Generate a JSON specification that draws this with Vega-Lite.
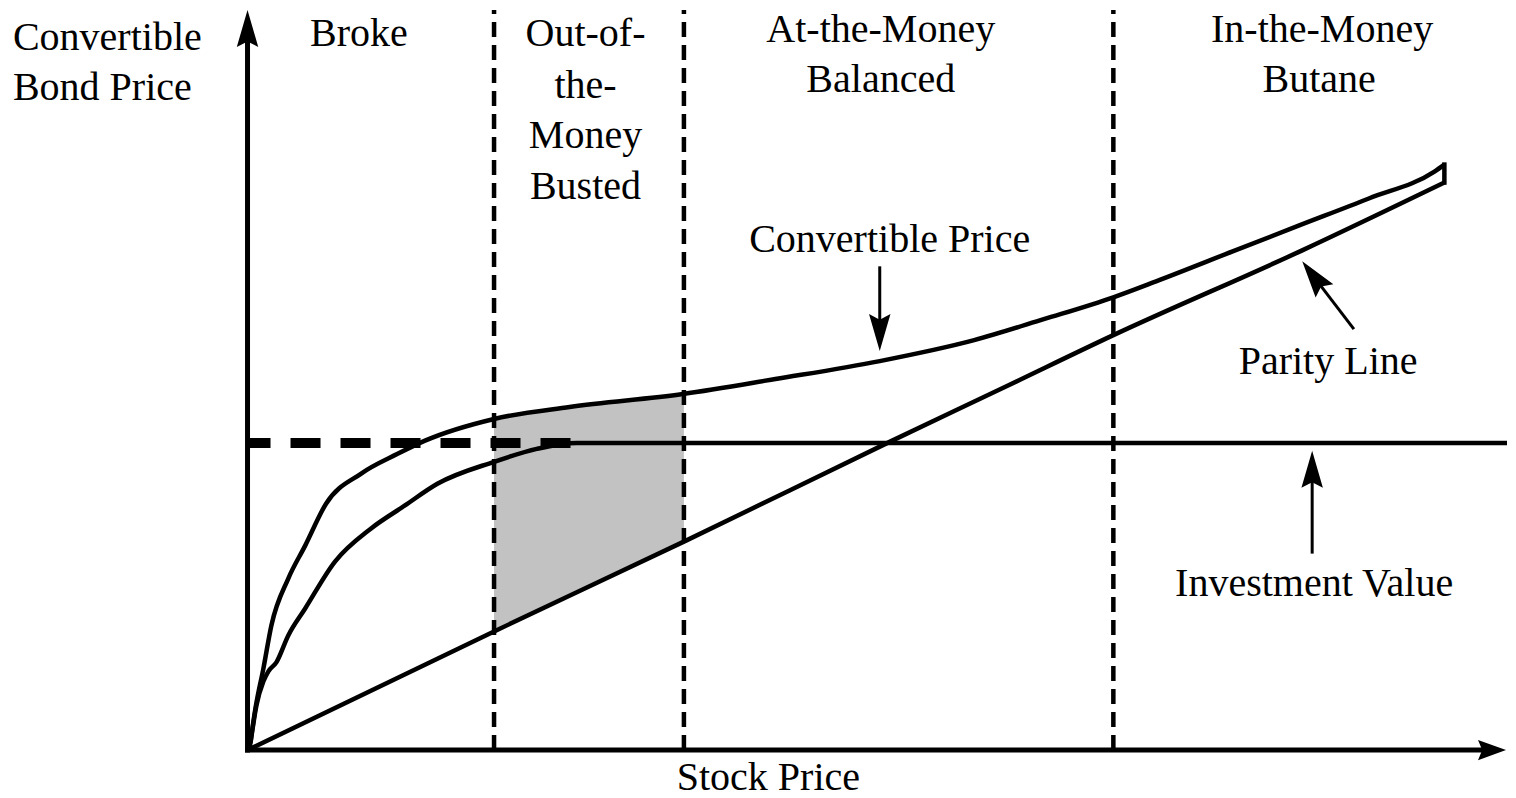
{
  "$schema": "https://vega.github.io/schema/vega-lite/v6.json",
  "width": 1516,
  "height": 798,
  "autosize": {"type": "fit", "contains": "padding"},
  "padding": 0,
  "background": "white",
  "config": {"view": {"stroke": null}},
  "encoding": {
    "x": {"field": "x", "type": "quantitative", "scale": {"domain": [-250, 1266], "nice": false, "zero": false}, "axis": null},
    "y": {"field": "y", "type": "quantitative", "scale": {"domain": [-46, 752], "nice": false, "zero": false}, "axis": null}
  },
  "layer": [
    {
      "data": {"values": [
        {"x": 247, "y": 119, "y2": 332},
        {"x": 285, "y": 137, "y2": 338},
        {"x": 323, "y": 155, "y2": 344},
        {"x": 380, "y": 182, "y2": 350},
        {"x": 438, "y": 209, "y2": 357}
      ]},
      "mark": {"type": "area", "color": "#c2c2c2", "orient": "vertical"},
      "encoding": {"y2": {"field": "y2"}}
    },
    {
      "data": {"values": [
        {"x": 247, "y": 0, "x2": 247, "y2": 742},
        {"x": 438, "y": 0, "x2": 438, "y2": 742},
        {"x": 870, "y": 0, "x2": 870, "y2": 742}
      ]},
      "mark": {"type": "rule", "color": "black", "strokeWidth": 4.5, "strokeDash": [15, 8]},
      "encoding": {"x2": {"field": "x2"}, "y2": {"field": "y2"}}
    },
    {
      "data": {"values": [{"x": 0, "y": 308, "x2": 330, "y2": 308}]},
      "mark": {"type": "rule", "color": "black", "strokeWidth": 10, "strokeDash": [30, 20], "strokeDashOffset": 8},
      "encoding": {"x2": {"field": "x2"}, "y2": {"field": "y2"}}
    },
    {
      "data": {"values": [
        {"series": "Convertible Price", "x": 1, "y": 1},
        {"series": "Convertible Price", "x": 7, "y": 42},
        {"series": "Convertible Price", "x": 15, "y": 82},
        {"series": "Convertible Price", "x": 23, "y": 125},
        {"series": "Convertible Price", "x": 40, "y": 172},
        {"series": "Convertible Price", "x": 57, "y": 205},
        {"series": "Convertible Price", "x": 78, "y": 247},
        {"series": "Convertible Price", "x": 113, "y": 277},
        {"series": "Convertible Price", "x": 150, "y": 297},
        {"series": "Convertible Price", "x": 177, "y": 310},
        {"series": "Convertible Price", "x": 247, "y": 332},
        {"series": "Convertible Price", "x": 323, "y": 344},
        {"series": "Convertible Price", "x": 437, "y": 357},
        {"series": "Convertible Price", "x": 530, "y": 372},
        {"series": "Convertible Price", "x": 635, "y": 390},
        {"series": "Convertible Price", "x": 730, "y": 411},
        {"series": "Convertible Price", "x": 800, "y": 432},
        {"series": "Convertible Price", "x": 870, "y": 454},
        {"series": "Convertible Price", "x": 913, "y": 470},
        {"series": "Convertible Price", "x": 990, "y": 500},
        {"series": "Convertible Price", "x": 1057, "y": 526},
        {"series": "Convertible Price", "x": 1127, "y": 553},
        {"series": "Convertible Price", "x": 1193, "y": 580},
        {"series": "Convertible Price", "x": 1203, "y": 587},
        {"series": "Parity Line", "x": 1, "y": 1},
        {"series": "Parity Line", "x": 247, "y": 119},
        {"series": "Parity Line", "x": 438, "y": 209},
        {"series": "Parity Line", "x": 647, "y": 310},
        {"series": "Parity Line", "x": 763, "y": 365},
        {"series": "Parity Line", "x": 870, "y": 416},
        {"series": "Parity Line", "x": 1060, "y": 501},
        {"series": "Parity Line", "x": 1203, "y": 569},
        {"series": "Investment Value", "x": 2, "y": 7},
        {"series": "Investment Value", "x": 8, "y": 45},
        {"series": "Investment Value", "x": 15, "y": 69},
        {"series": "Investment Value", "x": 20, "y": 79},
        {"series": "Investment Value", "x": 28, "y": 88},
        {"series": "Investment Value", "x": 40, "y": 115},
        {"series": "Investment Value", "x": 57, "y": 142},
        {"series": "Investment Value", "x": 87, "y": 189},
        {"series": "Investment Value", "x": 123, "y": 222},
        {"series": "Investment Value", "x": 157, "y": 245},
        {"series": "Investment Value", "x": 190, "y": 267},
        {"series": "Investment Value", "x": 247, "y": 289},
        {"series": "Investment Value", "x": 290, "y": 302},
        {"series": "Investment Value", "x": 330, "y": 308},
        {"series": "Investment Value", "x": 1266, "y": 308}
      ]},
      "mark": {"type": "line", "color": "black", "strokeWidth": 4.5, "interpolate": "monotone"},
      "encoding": {"detail": {"field": "series"}}
    },
    {
      "data": {"values": [
        {"x": -1, "y": 0, "x2": -1, "y2": 712},
        {"x": -1, "y": 0, "x2": 1245, "y2": 0}
      ]},
      "mark": {"type": "rule", "color": "black", "strokeWidth": 5, "strokeCap": "square"},
      "encoding": {"x2": {"field": "x2"}, "y2": {"field": "y2"}}
    },
    {
      "data": {"values": [{"x": 1203, "y": 569, "x2": 1203, "y2": 587}]},
      "mark": {"type": "rule", "color": "black", "strokeWidth": 4.5, "strokeCap": "square"},
      "encoding": {"x2": {"field": "x2"}, "y2": {"field": "y2"}}
    },
    {
      "data": {"values": [
        {"x": 635, "y": 485, "x2": 635, "y2": 410},
        {"x": 1070, "y": 197, "x2": 1070, "y2": 290},
        {"x": 1112, "y": 422, "x2": 1066, "y2": 482}
      ]},
      "mark": {"type": "rule", "color": "black", "strokeWidth": 3},
      "encoding": {"x2": {"field": "x2"}, "y2": {"field": "y2"}}
    },
    {
      "data": {"values": [{"x": -1, "y": 742}, {"x": 1070, "y": 300}]},
      "mark": {"type": "point", "shape": "M0,0L0.58,2L0,1.7L-0.58,2Z", "size": 1369, "filled": true, "color": "black", "opacity": 1, "strokeWidth": 0, "angle": 0}
    },
    {
      "data": {"values": [{"x": 1265, "y": 0}]},
      "mark": {"type": "point", "shape": "M0,0L0.72,2L0,1.7L-0.72,2Z", "size": 784, "filled": true, "color": "black", "opacity": 1, "strokeWidth": 0, "angle": 90}
    },
    {
      "data": {"values": [{"x": 635, "y": 400}]},
      "mark": {"type": "point", "shape": "M0,0L0.58,2L0,1.7L-0.58,2Z", "size": 1369, "filled": true, "color": "black", "opacity": 1, "strokeWidth": 0, "angle": 180}
    },
    {
      "data": {"values": [{"x": 1060, "y": 490}]},
      "mark": {"type": "point", "shape": "M0,0L0.6,2L0,1.7L-0.6,2Z", "size": 1369, "filled": true, "color": "black", "opacity": 1, "strokeWidth": 0, "angle": 323}
    },
    {
      "data": {"values": [
        {"label": "Convertible", "x": -237, "y": 702},
        {"label": "Bond Price", "x": -237, "y": 652}
      ]},
      "mark": {"type": "text", "font": "Liberation Serif", "fontSize": 40, "align": "left", "baseline": "alphabetic", "color": "black"},
      "encoding": {"text": {"field": "label"}}
    },
    {
      "data": {"values": [
        {"label": "Broke", "x": 111, "y": 706},
        {"label": "Out-of-", "x": 339, "y": 706},
        {"label": "the-", "x": 339, "y": 654},
        {"label": "Money", "x": 339, "y": 604},
        {"label": "Busted", "x": 339, "y": 552},
        {"label": "At-the-Money", "x": 636, "y": 710},
        {"label": "Balanced", "x": 636, "y": 660},
        {"label": "In-the-Money", "x": 1080, "y": 710},
        {"label": "Butane", "x": 1077, "y": 660},
        {"label": "Convertible Price", "x": 645, "y": 499},
        {"label": "Parity Line", "x": 1086, "y": 377},
        {"label": "Investment Value", "x": 1072, "y": 155},
        {"label": "Stock Price", "x": 523, "y": -40}
      ]},
      "mark": {"type": "text", "font": "Liberation Serif", "fontSize": 40, "align": "center", "baseline": "alphabetic", "color": "black"},
      "encoding": {"text": {"field": "label"}}
    }
  ]
}
